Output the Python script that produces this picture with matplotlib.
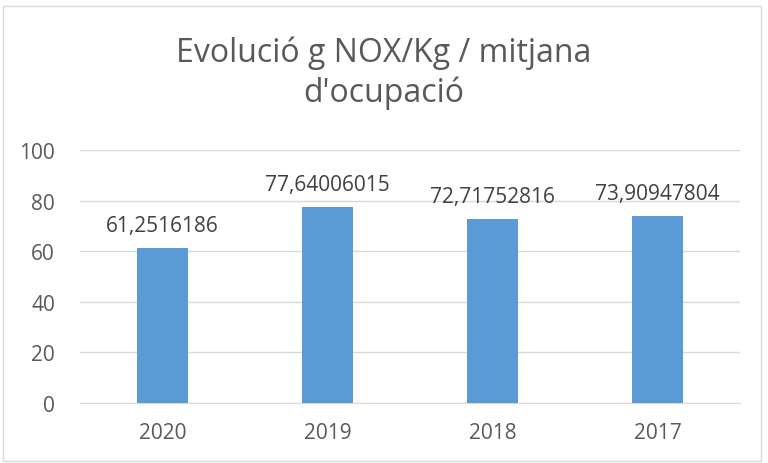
import matplotlib.pyplot as plt
from matplotlib.patches import Rectangle

years = ['2020', '2019', '2018', '2017']
values = [61.2516186, 77.64006015, 72.71752816, 73.90947804]
value_labels = ['61,2516186', '77,64006015', '72,71752816', '73,90947804']

plt.rcParams['font.family'] = ['Open Sans', 'DejaVu Sans']
text_color = '#595959'
grid_color = '#d9d9d9'
bar_color = '#5b9bd5'

W, H = 768, 464
fig = plt.figure(figsize=(W / 100, H / 100), dpi=100)
ax = fig.add_axes([80 / W, (H - 404) / H, 660 / W, (404 - 151) / H])

ax.bar(years, values, width=0.31, color=bar_color, zorder=3)
for i, (v, lab) in enumerate(zip(values, value_labels)):
    ax.annotate(lab, (i, v), xytext=(0, 12), textcoords='offset points',
                ha='center', va='baseline', fontsize=15, color='#404040')

ax.set_xlim(-0.5, len(years) - 0.5)
ax.set_ylim(0, 100)
ax.set_yticks(range(0, 101, 20))
ax.grid(axis='y', color=grid_color, linewidth=1, zorder=0)
for s in ['top', 'right', 'left']:
    ax.spines[s].set_visible(False)
ax.spines['bottom'].set_color(grid_color)
ax.tick_params(length=0, labelsize=15, colors=text_color)
ax.tick_params(axis='y', pad=18)
ax.tick_params(axis='x', pad=14)

fig.text(0.5, (H - 62) / H, "Evolució g NOX/Kg / mitjana",
         ha='center', va='baseline', fontsize=23, color=text_color)
fig.text(0.5, (H - 102) / H, "d'ocupació",
         ha='center', va='baseline', fontsize=23, color=text_color)

fig.patches.append(Rectangle((3 / W, 2 / H), 758 / W, 455 / H,
                             transform=fig.transFigure, fill=False,
                             edgecolor='#d9d9d9', linewidth=1))

fig.savefig('out.png', dpi=100)
